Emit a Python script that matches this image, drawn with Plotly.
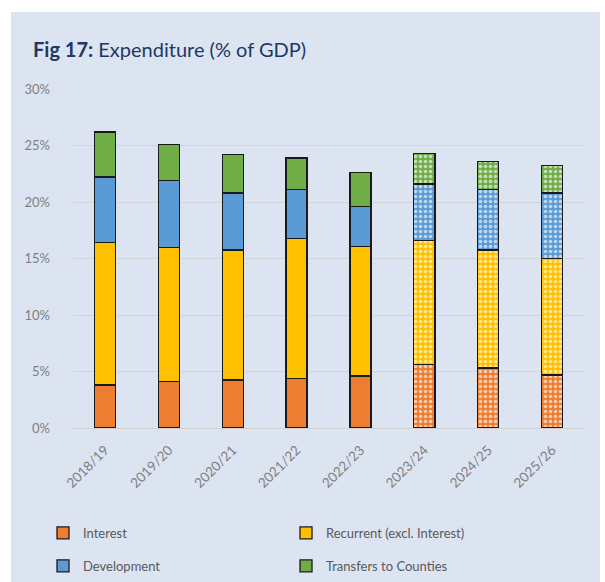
import plotly.graph_objects as go

# Fiscal years; the last three are projections
years = ["2018/19", "2019/20", "2020/21", "2021/22", "2022/23", "2023/24", "2024/25", "2025/26"]
projected = [False, False, False, False, False, True, True, True]

# Expenditure components, % of GDP
interest = [3.8, 4.1, 4.25, 4.4, 4.6, 5.6, 5.3, 4.7]
recurrent = [12.6, 11.9, 11.5, 12.4, 11.45, 11.0, 10.45, 10.3]
development = [5.8, 5.9, 5.05, 4.3, 3.55, 5.0, 5.35, 5.8]
transfers = [4.0, 3.2, 3.4, 2.8, 3.0, 2.7, 2.5, 2.4]

series = [
    ("Interest", interest, "#ED7D31", "legend"),
    ("Recurrent (excl. Interest)", recurrent, "#FFC000", "legend2"),
    ("Development", development, "#5B9BD5", "legend"),
    ("Transfers to Counties", transfers, "#70AD47", "legend2"),
]

FONT = "Lato"
W, H = 605, 582
ML, MR, MT, MB = 73, 21, 89, 154
PW, PH = W - ML - MR, H - MT - MB


def px_x(px):
    return (px - ML) / PW


def px_y(py):
    return (H - MB - py) / PH


fig = go.Figure()
for i, (name, vals, color, leg) in enumerate(series):
    fig.add_trace(go.Bar(
        x=years,
        y=vals,
        name=name,
        legend=leg,
        legendgroup=name,
        marker=dict(
            color=color,
            line=dict(color="#1a1a1a", width=1.3),
            pattern=dict(
                shape=["." if p else "" for p in projected],
                fillmode="overlay",
                fgcolor="white",
                fgopacity=0.6,
                size=5,
                solidity=0.4,
            ),
        ),
        width=0.33,
        hoverinfo="x+y+name",
    ))

# light-blue panel behind the chart
fig.add_shape(
    type="rect", xref="paper", yref="paper", layer="below",
    x0=px_x(11), x1=px_x(600), y0=px_y(590), y1=px_y(12),
    fillcolor="#DCE4F2", line=dict(width=0),
)

fig.add_annotation(
    text="<b>Fig 17:</b> Expenditure (% of GDP)",
    xref="paper", yref="paper", x=px_x(31), y=px_y(49),
    xanchor="left", yanchor="middle", showarrow=False,
    font=dict(family=FONT, size=20, color="#203864"),
)

# legends are placed in container coordinates so they don't grow the margins
legend_common = dict(
    orientation="v", yanchor="top", xanchor="left",
    xref="container", yref="container",
    bgcolor="rgba(0,0,0,0)", tracegroupgap=13,
    font=dict(family=FONT, size=13, color="#595959"),
    itemclick=False, itemdoubleclick=False,
)

fig.update_layout(
    width=W, height=H,
    margin=dict(l=ML, r=MR, t=MT, b=MB, autoexpand=False),
    paper_bgcolor="white",
    plot_bgcolor="rgba(0,0,0,0)",
    barmode="stack",
    bargap=0.67,
    font=dict(family=FONT, color="#7F7F7F"),
    legend=dict(x=43 / W, y=1 - 518 / H, **legend_common),
    legend2=dict(x=286 / W, y=1 - 518 / H, **legend_common),
    xaxis=dict(
        tickangle=-45,
        tickfont=dict(family=FONT, size=13.5, color="#7F7F7F"),
        showgrid=False,
        showline=True, linecolor="#D0D0D0", linewidth=1,
        ticks="",
        ticklabelstandoff=8,
        fixedrange=True,
    ),
    yaxis=dict(
        range=[0, 30],
        dtick=5,
        ticksuffix="%",
        tickfont=dict(family=FONT, size=13, color="#7F7F7F"),
        showgrid=True, gridcolor="#D4D4D4", gridwidth=1,
        zeroline=False,
        ticks="",
        ticklabelstandoff=22,
        fixedrange=True,
    ),
)

fig.write_html("out.html")
